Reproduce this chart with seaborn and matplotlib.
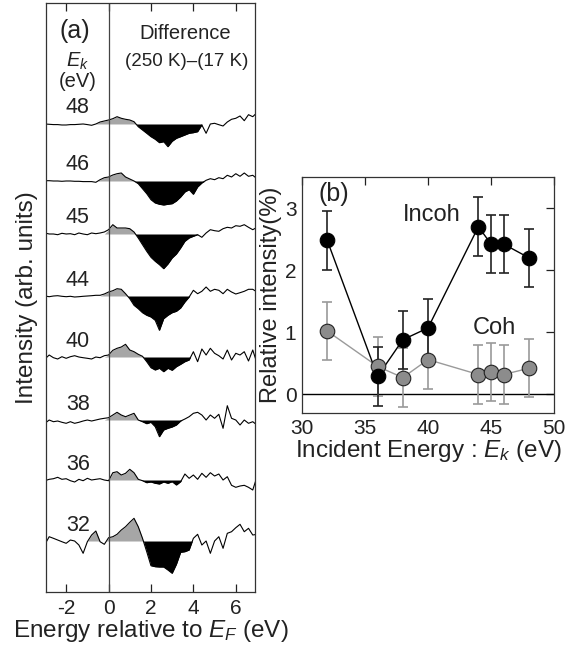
import numpy as np
import pandas as pd
import matplotlib
matplotlib.use("Agg")
import matplotlib.pyplot as plt
import seaborn as sns

sns.set_theme(style="white")
plt.rcParams['font.family'] = ['Liberation Sans', 'DejaVu Sans']
plt.rcParams['mathtext.fontset'] = 'custom'
plt.rcParams['mathtext.it'] = 'Liberation Sans:italic'
plt.rcParams['mathtext.rm'] = 'Liberation Sans'
plt.rcParams['axes.unicode_minus'] = False

# ---------------- data: panel (a) ----------------
energy = np.round(np.arange(-3.0, 7.0001, 0.2), 2)
labels_ek = ["48", "46", "45", "44", "40", "38", "36", "32"]
offsets = [468, 411, 358, 296, 235, 172, 112, 51]

spec_48 = [0, -0.3, -0.6, -0.6, -1, -1, -0.6, -0.6, -0.3, 0, -0.6, -1.3, 0, 2, 3, 4, 5.3, 7.3, 5.7, 4.7,
           4, 2.3, -2.7, -6, -9.3, -12.7, -15.3, -18.7, -17.7, -22.7, -17.3, -14.3, -12.7, -11, -9.3, -8.7,
           -7.7, -1, -9.3, 0, 0.7, -0.7, -2, 2, 4.7, 5.7, 8, 3.3, 9.3, 7.3, 11.3]
spec_46 = [0.3, 0.3, 0, 0, -0.3, 0, 0, -0.3, -0.3, -0.6, -0.6, -0.6, -1.3, 1.3, 3.3, 4, 6, 7.3, 8, 4,
           2, 0, -2.7, -7.7, -12.7, -18.7, -22, -23.3, -24, -23.3, -22.7, -20, -16, -11, -8.7, -13.3,
           -6, -2, 0.7, 2.3, 1.3, 3.3, 2.3, 5.7, 4, 7.3, 4.7, 8, 4.7, 5.7, 2.3]
spec_45 = [1, 0, 0, -0.7, 0.7, 0, 0.3, -0.7, 1, 0, -0.7, 1, 0.3, 1, 2, 4.3, 9.3, 6, 6, 6,
           5.3, 2, -4, -10.7, -17.3, -23.3, -27.3, -30.7, -34.7, -30, -24, -20, -14, -7.3, -4, -2.3,
           -0.7, -3.3, 1, 4.3, 3.3, 2.7, 5.3, 6.7, 6, 8.3, 7.7, 9.3, 6.7, 4.3, 6.7]
spec_44 = [0, -0.7, 0, 0.3, -0.3, -0.7, -0.3, -1, -0.7, -0.3, 0, 0.3, 0.7, 0.7, 2, 4, 5.3, 7.3, 6.7, 2.3,
           -2.7, -9.3, -12.7, -16.7, -19.3, -21, -24.3, -34.3, -22.7, -19.3, -16.7, -15.3, -12, -6, -1, 5.7,
           2.3, 4.7, 9, 4.7, 6.7, 5.7, 2.3, 6.7, 4, 2, 3.3, 4.7, 6.7, 6.7, 4]
spec_40 = [-2, 2, -0.7, -2, 0.3, -1.3, 0.3, 1.3, 0, -0.7, -1.3, -2, 0, -0.7, 1.3, 2, 6.7, 8.7, 10, 12.7,
           7, 5.3, 2.7, 0.7, -4.7, -10.7, -13, -11.3, -14.7, -11.3, -13.3, -9.7, -7.3, -4.7, -3, 5.3,
           -4.7, 8, 2, 8.7, 3.7, 1.3, -2, 7, -3, 3.7, 2, 5.3, -4, 7, -6.3]
spec_38 = [-3.3, 0, -1.7, -1, -2.3, -3.3, -1.7, -3.3, -2.3, -1, 0, -1, 0, 1, 1.7, 2.3, 5, 7.7, 5, 3.3,
           5, 6.7, 0, -1.7, -3.7, -2.3, -6.7, -16.7, -10, -8.3, -7, -5, -1, 1, 3.3, 6.7,
           7.7, 5, 0, 5, 1.7, 5.7, -8.3, 14.3, 1.7, 0, -5, 0, -3.3, -1.7, -5]
spec_36 = [-0.7, 0.7, 1.3, 2.7, 0.7, 1.3, -0.7, -2, 0.7, -0.7, 1.7, 0, 0.7, 1.3, 0, -0.7, 7.3, 8.3, 5, 6.7,
           10.7, 7.3, 0.7, -0.7, -2.7, -2, -3.3, -4, -2, -3.3, -1.7, -5, -1.7, 6, 1.7, 5,
           0.7, 6.7, 2.7, 7.3, 4, 6, 0, 3.3, -5.3, -7.3, -6, -5.3, -7.3, -10, 3.3]
spec_32 = [-3.3, 4.3, 2.7, 1, -0.7, -2.3, 1, 0, -4, -12.3, -0.7, 6, 10, -0.7, -3.3, 3.3, 4.3, 6.7, 11, 14.3,
           18.7, 22.7, 14.3, 2.7, -10.7, -24.7, -25.7, -26, -26, -29, -32.3, -23.3, -11.3, -10.7, -9, 2.7,
           6.7, -4, 0, -12.3, 0, 4.3, -7.3, 7.7, 9.3, 13.3, 16.7, 9.3, 12.7, 6, 6.7]
spectra = [spec_48, spec_46, spec_45, spec_44, spec_40, spec_38, spec_36, spec_32]
gray_ranges = [[(-0.5, 1.3)], [(-0.5, 1.2)], [(0.0, 1.3)], [(-0.3, 0.9)], [(0.0, 1.7)],
               [(0.0, 1.3)], [(0.0, 1.5)], [(-0.85, -0.45), (0.0, 1.65)]]
black_ranges = [(1.3, 4.5), (1.2, 4.5), (1.3, 4.3), (0.9, 3.9), (1.7, 3.9),
                (1.3, 3.5), (1.5, 3.4), (1.65, 4.0)]

# ---------------- data: panel (b) ----------------
ek = [32, 36, 38, 40, 44, 45, 46, 48]
incoh = [2.48, 0.29, 0.88, 1.07, 2.70, 2.42, 2.42, 2.20]
coh = [1.02, 0.45, 0.27, 0.56, 0.32, 0.36, 0.32, 0.42]
err = 0.47

TXT = "#222222"
fig = plt.figure(figsize=(5.66, 6.49), dpi=100)
axa = fig.add_axes([0.0813, 0.0878, 0.369, 0.9076])
axb = fig.add_axes([0.5336, 0.3636, 0.4452, 0.3637])

# ---- panel (a)
for lab, off, spec, gr, br in zip(labels_ek, offsets, spectra, gray_ranges, black_ranges):
    s = np.array(spec, dtype=float)
    y = off + s
    for (g0, g1) in gr:
        m = (energy >= g0 - 1e-9) & (energy <= g1 + 1e-9)
        axa.fill_between(energy, off, y, where=m & (y >= off), interpolate=True,
                         color="#a6a6a6", lw=0)
    b0, b1 = br
    m = (energy >= b0 - 1e-9) & (energy <= b1 + 1e-9)
    axa.fill_between(energy, off, y, where=m & (y <= off), interpolate=True,
                     color="black", lw=0)
    df = pd.DataFrame({"E": energy, "I": y})
    sns.lineplot(data=df, x="E", y="I", ax=axa, color="black", lw=0.8, sort=False)
    axa.text(-1.45, off + 16, lab, ha="center", va="center", fontsize=15.5, color=TXT)

axa.axvline(0, color="#444444", lw=0.9)
axa.set_xlim(-2.95, 6.9)
axa.set_ylim(0, 589)
axa.set_yticks([])
axa.set_xticks([-2, 0, 2, 4, 6])
axa.tick_params(axis="x", direction="in", top=True, bottom=True, length=6, width=0.9,
                labelsize=15, pad=5, colors=TXT)
for sp in axa.spines.values():
    sp.set_color("#333333")
    sp.set_linewidth(0.9)
axa.set_xlabel("Energy relative to $\\mathit{E_F}$ (eV)", fontsize=17.5, labelpad=0, color=TXT)
axa.set_ylabel("Intensity (arb. units)", fontsize=17.5, labelpad=6, color=TXT)
axa.text(-2.3, 561, "(a)", fontsize=18, ha="left", va="center", color=TXT)
axa.text(-1.45, 531, "$E_k$", fontsize=14.5, ha="center", va="center", color=TXT)
axa.text(-1.45, 510, "(eV)", fontsize=14.5, ha="center", va="center", color=TXT)
axa.text(3.6, 558, "Difference", fontsize=14.5, ha="center", va="center", color=TXT)
axa.text(3.7, 530, "(250 K)\u2013(17 K)", fontsize=13.5, ha="center", va="center", color=TXT)

# ---- panel (b)
axb.axhline(0, color="black", lw=1)
axb.errorbar(ek, coh, yerr=err, fmt="none", ecolor="#9a9a9a", elinewidth=1.2, capsize=3.5, capthick=1.2)
axb.errorbar(ek, incoh, yerr=err, fmt="none", ecolor="#222222", elinewidth=1.2, capsize=3.5, capthick=1.2)
dfc = pd.DataFrame({"Ek": ek, "v": coh})
dfi = pd.DataFrame({"Ek": ek, "v": incoh})
sns.lineplot(data=dfc, x="Ek", y="v", ax=axb, color="#9a9a9a", lw=1.0)
sns.scatterplot(data=dfc, x="Ek", y="v", ax=axb, color="#8c8c8c", edgecolor="#222222",
                linewidth=0.8, s=110, zorder=5)
sns.lineplot(data=dfi, x="Ek", y="v", ax=axb, color="black", lw=1.0)
sns.scatterplot(data=dfi, x="Ek", y="v", ax=axb, color="black", edgecolor="black",
                linewidth=0.8, s=110, zorder=6)
axb.set_xlim(30, 50)
axb.set_ylim(-0.3, 3.5)
axb.set_xticks([30, 35, 40, 45, 50])
axb.set_yticks([0, 1, 2, 3])
axb.tick_params(direction="in", top=True, right=True, length=6, width=0.9,
                labelsize=15, pad=4, colors=TXT)
for sp in axb.spines.values():
    sp.set_color("#333333")
    sp.set_linewidth(0.9)
axb.set_xlabel("Incident Energy : $E_k$ (eV)", fontsize=17.5, labelpad=0, color=TXT)
axb.set_ylabel("Relative intensity(%)", fontsize=17, labelpad=2, color=TXT)
axb.text(31.3, 3.22, "(b)", fontsize=18, ha="left", va="center", color=TXT)
axb.text(40.3, 2.89, "Incoh", fontsize=17, ha="center", va="center", color=TXT)
axb.text(45.3, 1.07, "Coh", fontsize=17, ha="center", va="center", color=TXT)

fig.savefig("out.png", dpi=100)
